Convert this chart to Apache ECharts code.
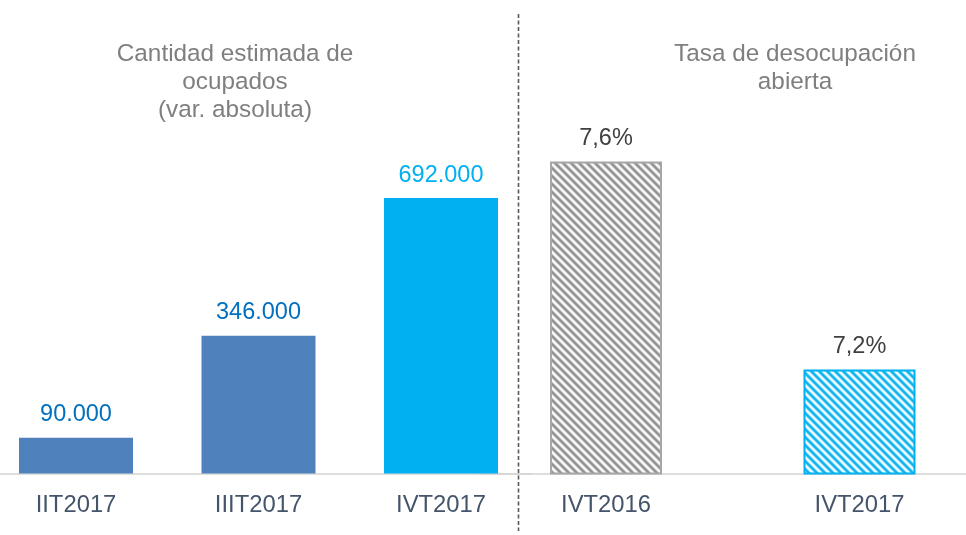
<!DOCTYPE html>
<html>
<head>
<meta charset="utf-8">
<script src="https://cdn.jsdelivr.net/npm/echarts@6/dist/echarts.min.js"></script>
<style>
  html, body { margin: 0; padding: 0; background: #ffffff; }
  #chart { width: 966px; height: 535px; }
</style>
</head>
<body>
<div id="chart"></div>
<script>
// Employment change (absolute) by quarter
const leftCategories = ['IIT2017', 'IIIT2017', 'IVT2017'];
const leftValues = [90000, 346000, 692000];

// Open unemployment rate, same quarter one year apart
const rightCategories = ['IVT2016', 'IVT2017'];
const rightValues = [7.6, 7.2];

const leftTitle = 'Cantidad estimada de\nocupados\n(var. absoluta)';
const rightTitle = 'Tasa de desocupación\nabierta';

const FONT = "'Liberation Sans', Arial, sans-serif";

// Soft diagonal stripe tile used to fill the unemployment bars
function stripeTile(r, g, b, period) {
  const c = document.createElement('canvas');
  c.width = period; c.height = period;
  const ctx = c.getContext('2d');
  const img = ctx.createImageData(period, period);
  for (let y = 0; y < period; y++) {
    for (let x = 0; x < period; x++) {
      const t = 0.5 + 0.5 * Math.cos(2 * Math.PI * (x - y) / period);
      const i = (y * period + x) * 4;
      img.data[i] = Math.round(255 + (r - 255) * t);
      img.data[i + 1] = Math.round(255 + (g - 255) * t);
      img.data[i + 2] = Math.round(255 + (b - 255) * t);
      img.data[i + 3] = 255;
    }
  }
  ctx.putImageData(img, 0, 0);
  return c;
}

const grayStripes = { image: stripeTile(140, 140, 140, 8), repeat: 'repeat' };
const blueStripes = { image: stripeTile(0, 176, 240, 8), repeat: 'repeat' };

const leftColors = ['#4f81bd', '#4f81bd', '#00b0f0'];
const leftLabelColors = ['#0070c0', '#0070c0', '#00b0f0'];
const rightFills = [grayStripes, blueStripes];
const rightBorders = ['#a6a6a6', '#00b0f0'];

const thousands = v => String(v).replace(/\B(?=(\d{3})+(?!\d))/g, '.');
const percent = v => v.toFixed(1).replace('.', ',') + '%';

const chart = echarts.init(document.getElementById('chart'), null, { renderer: 'canvas' });

const axisLineStyle = { lineStyle: { color: '#d4d4d4', width: 1.5 } };
const catLabel = { color: '#44546a', fontSize: 23.8, fontFamily: FONT, margin: 20 };

chart.setOption({
  animation: false,
  backgroundColor: '#ffffff',
  grid: [
    { left: -15.25, width: 547.5, top: 57.5, bottom: 61.5, outerBoundsMode: 'none', containLabel: false },
    { left: 479.25, width: 507, top: 57.5, bottom: 61.5, outerBoundsMode: 'none', containLabel: false }
  ],
  xAxis: [
    { type: 'category', gridIndex: 0, data: leftCategories,
      axisLine: axisLineStyle, axisTick: { show: false }, axisLabel: catLabel },
    { type: 'category', gridIndex: 1, data: rightCategories,
      axisLine: axisLineStyle, axisTick: { show: false }, axisLabel: catLabel }
  ],
  yAxis: [
    { type: 'value', gridIndex: 0, min: 0, max: 1045000, show: false, splitLine: { show: false } },
    { type: 'value', gridIndex: 1, min: 7, max: 7.8, show: false, splitLine: { show: false } }
  ],
  series: [
    {
      type: 'bar', xAxisIndex: 0, yAxisIndex: 0, barWidth: 114,
      data: leftValues.map((v, i) => ({
        value: v,
        itemStyle: { color: leftColors[i] },
        label: { color: leftLabelColors[i] }
      })),
      label: {
        show: true, position: 'top', distance: 11,
        fontSize: 23.5, fontFamily: FONT,
        formatter: p => thousands(p.value)
      }
    },
    {
      type: 'bar', xAxisIndex: 1, yAxisIndex: 1, barWidth: 112,
      data: rightValues.map((v, i) => ({
        value: v,
        itemStyle: { color: rightFills[i], borderColor: rightBorders[i], borderWidth: 2 }
      })),
      label: {
        show: true, position: 'top', distance: 11,
        color: '#404040', fontSize: 23.5, fontFamily: FONT,
        formatter: p => percent(p.value)
      }
    }
  ],
  graphic: [
    {
      type: 'text', silent: true,
      x: 235, y: 40,
      style: {
        text: leftTitle, fill: '#7f7f7f', font: '24.3px ' + FONT,
        align: 'center', verticalAlign: 'top', lineHeight: 28
      }
    },
    {
      type: 'text', silent: true,
      x: 795, y: 40,
      style: {
        text: rightTitle, fill: '#7f7f7f', font: '24.3px ' + FONT,
        align: 'center', verticalAlign: 'top', lineHeight: 28
      }
    },
    {
      type: 'line', silent: true,
      shape: { x1: 518.5, y1: 14, x2: 518.5, y2: 531 },
      style: { stroke: '#595959', lineWidth: 1.6, lineDash: [4, 2.5] }
    }
  ]
});
</script>
</body>
</html>
